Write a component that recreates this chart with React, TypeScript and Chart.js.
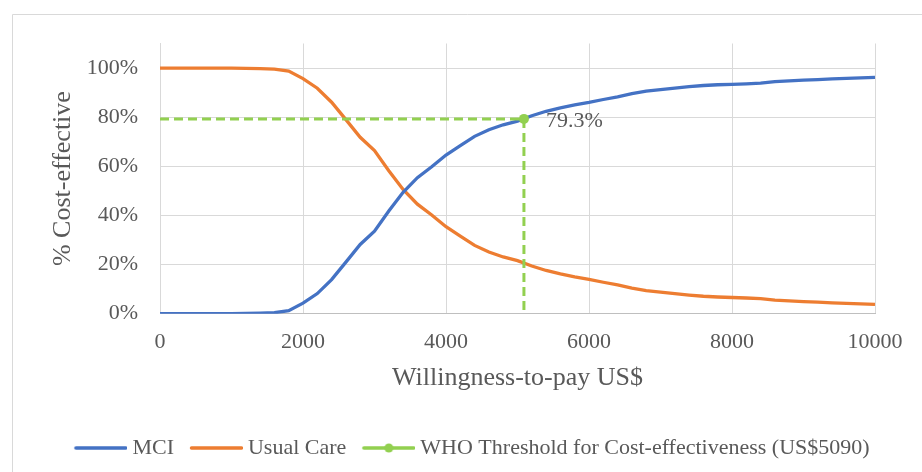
import React, { useEffect, useRef } from 'react';
import { Chart, registerables } from 'chart.js';

Chart.register(...registerables);

// Willingness-to-pay (US$)
const wtp = [
  0, 200, 400, 600, 800, 1000, 1200, 1400, 1600, 1800,
  2000, 2200, 2400, 2600, 2800, 3000, 3200, 3400, 3600, 3800,
  4000, 4200, 4400, 4600, 4800, 5000, 5200, 5400, 5600, 5800,
  6000, 6200, 6400, 6600, 6800, 7000, 7200, 7400, 7600, 7800,
  8000, 8200, 8400, 8600, 8800, 9000, 9200, 9400, 9600, 9800, 10000,
];

// % cost-effective, MCI
const mci = [
  0, 0, 0, 0, 0, 0, 0.1, 0.2, 0.4, 1.2,
  4.3, 8.2, 13.9, 21.0, 28.2, 33.6, 41.8, 49.4, 55.4, 59.8,
  64.6, 68.4, 72.2, 74.9, 76.9, 78.4, 80.6, 82.4, 83.8, 85.0,
  86.0, 87.2, 88.3, 89.6, 90.6, 91.2, 91.8, 92.4, 92.9, 93.2,
  93.4, 93.6, 93.9, 94.5, 94.8, 95.1, 95.3, 95.6, 95.8, 96.0, 96.2,
];

// % cost-effective, Usual Care
const usualCare = [
  100, 100, 100, 100, 100, 100, 99.9, 99.8, 99.6, 98.8,
  95.7, 91.8, 86.1, 79.0, 71.8, 66.4, 58.2, 50.6, 44.6, 40.2,
  35.4, 31.6, 27.8, 25.1, 23.1, 21.6, 19.4, 17.6, 16.2, 15.0,
  14.0, 12.8, 11.7, 10.4, 9.4, 8.8, 8.2, 7.6, 7.1, 6.8,
  6.6, 6.4, 6.1, 5.5, 5.2, 4.9, 4.7, 4.4, 4.2, 4.0, 3.8,
];

// WHO threshold guide line
const thresholdWtp = [0, 5090, 5090];
const thresholdPct = [79.3, 79.3, 0];
const thresholdMarker = [0, 5, 0];
const thresholdLabel = '79.3%';

const seriesNames = ['MCI', 'Usual Care', 'WHO Threshold for Cost-effectiveness (US$5090)'];
const seriesColors = ['#4472C4', '#ED7D31', '#92D050'];

const FONT = '"Times New Roman", "Liberation Serif", serif';
const TEXT = '#595959';
const GRID = '#D9D9D9';

function legendIcon(color: string, withDot: boolean) {
  const c = document.createElement('canvas');
  c.width = 59;
  c.height = 12;
  const ctx = c.getContext('2d')!;
  ctx.strokeStyle = color;
  ctx.lineWidth = 3.5;
  ctx.lineCap = 'round';
  ctx.beginPath();
  ctx.moveTo(7.5, 6);
  ctx.lineTo(57.5, 6);
  ctx.stroke();
  if (withDot) {
    ctx.fillStyle = color;
    ctx.beginPath();
    ctx.arc(32.5, 6, 4.5, 0, Math.PI * 2);
    ctx.fill();
  }
  return c;
}

const framePlugin = {
  id: 'frame',
  beforeDraw(chart: any) {
    const ctx = chart.ctx;
    ctx.save();
    ctx.strokeStyle = GRID;
    ctx.lineWidth = 1;
    ctx.beginPath();
    ctx.moveTo(12.5, chart.height);
    ctx.lineTo(12.5, 14.5);
    ctx.lineTo(chart.width, 14.5);
    ctx.stroke();
    ctx.restore();
  },
};

const pointLabelPlugin = {
  id: 'pointLabel',
  afterDatasetsDraw(chart: any) {
    const meta = chart.getDatasetMeta(2);
    const pt = meta.data[1];
    if (!pt) return;
    const ctx = chart.ctx;
    ctx.save();
    ctx.font = `22px ${FONT}`;
    ctx.fillStyle = TEXT;
    ctx.textAlign = 'left';
    ctx.textBaseline = 'middle';
    ctx.fillText(thresholdLabel, pt.x + 22, pt.y + 2);
    ctx.restore();
  },
};

export default function App() {
  const ref = useRef<HTMLCanvasElement | null>(null);

  useEffect(() => {
    document.body.style.margin = '0';
    document.body.style.overflow = 'hidden';
    const canvas = ref.current;
    if (!canvas) return;

    const icons = [
      legendIcon(seriesColors[0], false),
      legendIcon(seriesColors[1], false),
      legendIcon(seriesColors[2], true),
    ];

    const chart = new Chart(canvas, {
      type: 'line',
      data: {
        datasets: [
          {
            label: seriesNames[0],
            data: wtp.map((x, i) => ({ x, y: mci[i] })),
            borderColor: seriesColors[0],
            backgroundColor: seriesColors[0],
            borderWidth: 3.3,
            pointRadius: 0,
            tension: 0,
            order: 1,
          },
          {
            label: seriesNames[1],
            data: wtp.map((x, i) => ({ x, y: usualCare[i] })),
            borderColor: seriesColors[1],
            backgroundColor: seriesColors[1],
            borderWidth: 3.3,
            pointRadius: 0,
            tension: 0,
            order: 2,
          },
          {
            label: seriesNames[2],
            data: thresholdWtp.map((x, i) => ({ x, y: thresholdPct[i] })),
            borderColor: seriesColors[2],
            backgroundColor: seriesColors[2],
            borderWidth: 3,
            borderDash: [9, 5],
            pointRadius: thresholdMarker,
            pointBackgroundColor: seriesColors[2],
            pointBorderWidth: 0,
            tension: 0,
            order: 0,
          },
        ],
      },
      options: {
        animation: false,
        responsive: false,
        events: [],
        layout: { padding: { left: 22, right: 0, top: 43.5, bottom: 5 } },
        scales: {
          x: {
            type: 'linear',
            min: 0,
            max: 10000,
            ticks: {
              stepSize: 2000,
              padding: 15,
              color: TEXT,
              font: { family: FONT, size: 22 },
              callback: (v: any) => String(v),
              maxRotation: 0,
            },
            grid: { color: GRID, lineWidth: 1, drawTicks: false },
            border: { color: '#BFBFBF', width: 1 },
            title: {
              display: true,
              text: 'Willingness-to-pay US$',
              color: TEXT,
              font: { family: FONT, size: 26, lineHeight: 1.2 },
              padding: { top: 0, bottom: 27.4 },
            },
            afterFit: (scale: any) => {
              scale.height = 107.3;
              scale.paddingRight = 47;
            },
          },
          y: {
            type: 'linear',
            min: 0,
            max: 110,
            ticks: {
              stepSize: 20,
              padding: 22,
              color: TEXT,
              font: { family: FONT, size: 22 },
              callback: (v: any) => `${v}%`,
            },
            afterBuildTicks: (axis: any) => {
              axis.ticks = axis.ticks.filter((t: any) => t.value <= 100);
            },
            grid: { color: GRID, lineWidth: 1, drawTicks: false },
            border: { color: GRID, width: 1 },
            title: {
              display: true,
              text: '% Cost-effective',
              color: TEXT,
              font: { family: FONT, size: 26, lineHeight: 1.2 },
              padding: { top: 26, bottom: 0 },
            },
            afterFit: (scale: any) => {
              scale.width = 138;
            },
          },
        },
        plugins: {
          tooltip: { enabled: false },
          legend: {
            display: true,
            position: 'bottom',
            labels: {
              usePointStyle: true,
              pointStyleWidth: 47,
              boxHeight: 12,
              padding: 16,
              color: TEXT,
              font: { family: FONT, size: 22 },
              sort: (a: any, b: any) => a.datasetIndex - b.datasetIndex,
              generateLabels: (ch: any) =>
                Chart.defaults.plugins.legend.labels
                  .generateLabels(ch)
                  .map((l: any) => ({ ...l, pointStyle: icons[l.datasetIndex] })),
            },
          },
        },
      },
      plugins: [framePlugin, pointLabelPlugin],
    } as any);

    return () => chart.destroy();
  }, []);

  return <canvas ref={ref} width={922} height={474} style={{ display: 'block', width: 922, height: 474 }} />;
}
